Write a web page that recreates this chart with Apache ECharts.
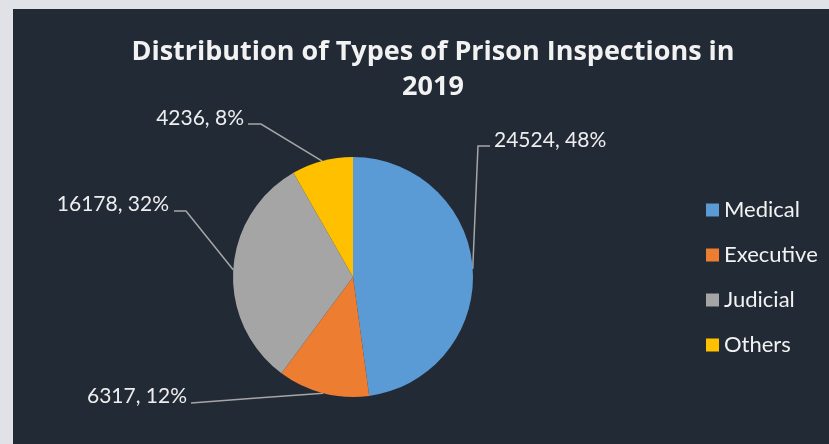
<!DOCTYPE html>
<html><head><meta charset="utf-8">
<script src="https://cdn.jsdelivr.net/npm/echarts@6/dist/echarts.min.js"></script>
<style>html,body{margin:0;padding:0;background:#e0e2e7;}#c{width:829px;height:444px;}</style>
</head><body><div id="c"></div>
<script>
const categories = ['Medical', 'Executive', 'Judicial', 'Others'];
const values = [24524, 6317, 16178, 4236];
const percents = [48, 12, 32, 8];
const colors = ['#5B9BD5', '#ED7D31', '#A5A5A5', '#FFC000'];
const titleText = 'Distribution of Types of Prison Inspections in\n2019';

// label anchor (text side point) and elbow for leader lines, in px
const labelPlace = [
  {x: 494, y: 140, align: 'left',  elbow: [478, 146], end: [490, 146]},
  {x: 187, y: 396, align: 'right', elbow: null,       end: [191, 403]},
  {x: 169, y: 204, align: 'right', elbow: [186, 211], end: [174, 211]},
  {x: 244, y: 118, align: 'right', elbow: [261, 124], end: [248, 124]}
];

const chart = echarts.init(document.getElementById('c'));
chart.setOption({
  backgroundColor: '#e0e2e7',
  animation: false,
  graphic: [{type: 'rect', shape: {x: 13, y: 9, width: 830, height: 440}, style: {fill: '#222a35'}, z: -10}],
  title: {
    text: titleText, left: 428, top: 30, textAlign: 'center',
    textStyle: {color: '#f2f2f2', fontFamily: 'Open Sans', fontWeight: 'bold', fontSize: 27, lineHeight: 35}
  },
  legend: {
    orient: 'vertical', left: 706, top: 199, itemWidth: 13, itemHeight: 13, itemGap: 23, padding: 0,
    icon: 'rect', data: categories,
    textStyle: {color: '#f2f2f2', fontFamily: 'Lato', fontSize: 22, lineHeight: 22}
  },
  series: [{
    type: 'pie', center: [353, 277], radius: 120, startAngle: 90, clockwise: true,
    data: categories.map((n, i) => ({name: n, value: values[i], itemStyle: {color: colors[i]}})),
    label: {
      show: true, position: 'outside', color: '#eeeeee', fontFamily: 'Lato', fontSize: 21,
      formatter: p => p.value + ', ' + percents[p.dataIndex] + '%'
    },
    labelLine: {show: true, lineStyle: {color: '#a6a6a6', width: 1.5}, smooth: false},
    labelLayout: function (params) {
      const lp = labelPlace[params.dataIndex];
      const start = params.labelLinePoints ? params.labelLinePoints[0] : null;
      const pts = [];
      if (start) pts.push(start);
      if (lp.elbow) pts.push(lp.elbow); else pts.push([(start[0] + lp.end[0]) / 2, (start[1] + lp.end[1]) / 2]);
      pts.push(lp.end);
      return {x: lp.x, y: lp.y, align: lp.align, verticalAlign: 'middle', labelLinePoints: pts};
    }
  }]
});
</script></body></html>
